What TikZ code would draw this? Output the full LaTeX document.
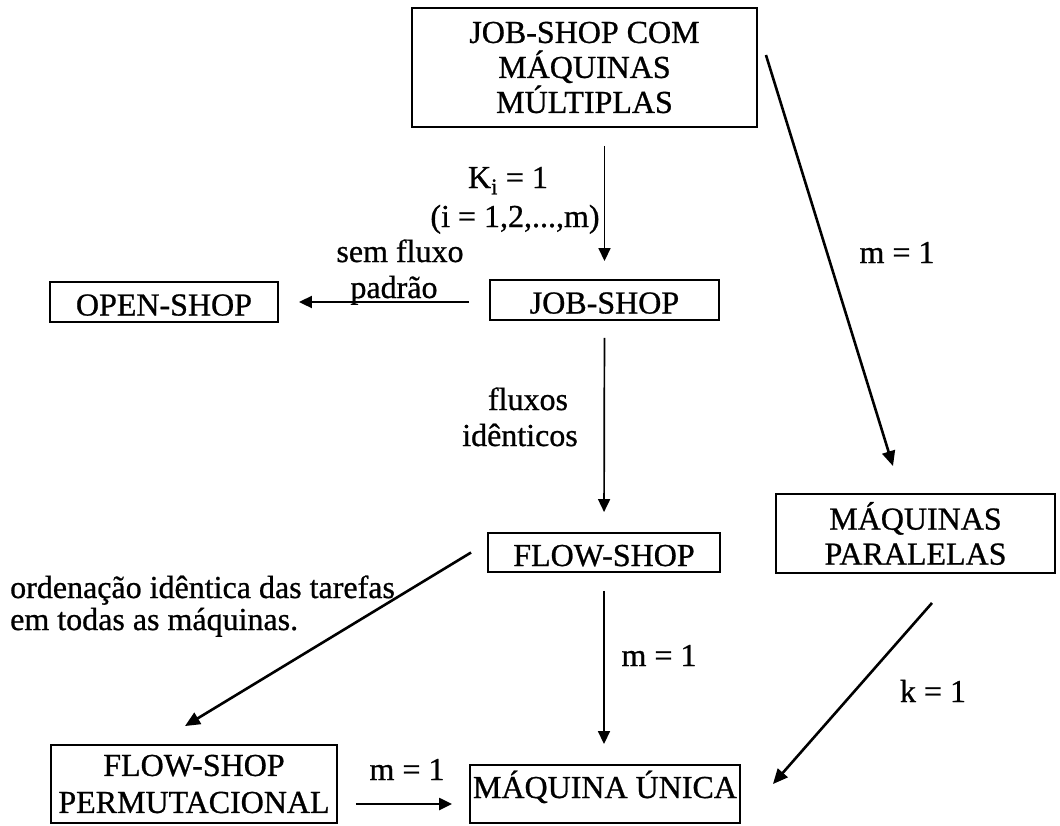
\documentclass[tikz,border=0pt]{standalone}
\usepackage{fontspec}
\setmainfont{Liberation Serif}[FakeBold=0.8]
\usetikzlibrary{arrows.meta}
\begin{document}
\begin{tikzpicture}[x=1pt,y=-1pt,
  every node/.style={font=\fontsize{32}{35}\selectfont, inner sep=0pt},
  box/.style={draw, line width=1.9pt, align=center},
  onebox/.style={box, text height=27pt, text depth=0pt},
  lbl/.style={anchor=base},
  arr/.style={-{Triangle[length=13pt,width=12pt]}, line width=1.7pt},
  darr/.style={-{Triangle[length=15pt,width=13pt]}, line width=2.6pt},
]
\path[use as bounding box, fill=white] (0,0) rectangle (1060,825);

\node[box, minimum width=345pt, minimum height=119pt] (jmm) at (584.5,67.5) {JOB-SHOP COM\\MÁQUINAS\\MÚLTIPLAS};
\node[onebox, minimum width=229pt, minimum height=40pt] (js) at (604.5,300) {JOB-SHOP};
\node[onebox, minimum width=228pt, minimum height=40pt] (os) at (164,302) {OPEN-SHOP};
\node[onebox, minimum width=232pt, minimum height=39pt] (fs) at (604,552.5) {FLOW-SHOP};
\node[box, minimum width=279pt, minimum height=79pt] (mp) at (915.5,533.5) {MÁQUINAS\\PARALELAS};
\node[box, minimum width=286pt, minimum height=78pt, font=\fontsize{32}{37}\selectfont] (fsp) at (194,784) {FLOW-SHOP\\PERMUTACIONAL};
\node[draw, line width=1.9pt, text height=21pt, text depth=13pt, minimum width=270pt, minimum height=58pt] (mu) at (605,794) {MÁQUINA ÚNICA};

\node[lbl] (ka) at (508,188) {K\textsubscript{i} = 1};
\node[lbl] (kb) at (515,227) {(i = 1,2,...,m)};
\node[lbl] (sfa) at (400,262) {sem fluxo};
\node[lbl] (sfb) at (394,298) {padrão};
\node[lbl] (fia) at (528,410) {fluxos};
\node[lbl] (fib) at (520,446) {idênticos};
\node[lbl] (m1) at (897,263) {m = 1};
\node[lbl] (m2) at (659,666) {m = 1};
\node[lbl] (m3) at (407,780) {m = 1};
\node[lbl] (k1) at (933,702) {k = 1};
\node[anchor=base west] (ord1) at (10,598) {ordenação idêntica das tarefas};
\node[anchor=base west] (ord2) at (10,630) {em todas as máquinas.};

\draw[arr, shorten <=18pt, shorten >=18pt] (js.north |- jmm.south) -- (js.north);
\draw[arr, shorten <=17pt, shorten >=20pt] (js.south) -- (fs.north);
\draw[arr, shorten <=18pt, shorten >=20pt] (fs.south) -- (fs.south |- mu.north);
\draw[arr, line width=2pt, shorten <=20pt, shorten >=20pt] ([yshift=-2pt]js.west) -- ([yshift=-2pt]js.west -| os.east);
\draw[arr, line width=2.4pt, shorten <=18pt, shorten >=17pt] ([yshift=-20pt]fsp.east) -- ([yshift=-20pt]fsp.east -| mu.west);
\draw[darr] ([xshift=8pt,yshift=12.5pt]jmm.east) -- ([xshift=-22.5pt,yshift=27pt]mp.north);
\draw[darr] ([xshift=-16pt]fs.west) -- ([xshift=-9pt,yshift=18pt]fsp.north);
\draw[darr] ([xshift=16.5pt,yshift=-29pt]mp.south) -- ([xshift=32pt,yshift=-20pt]mu.north east);
\end{tikzpicture}
\end{document}
